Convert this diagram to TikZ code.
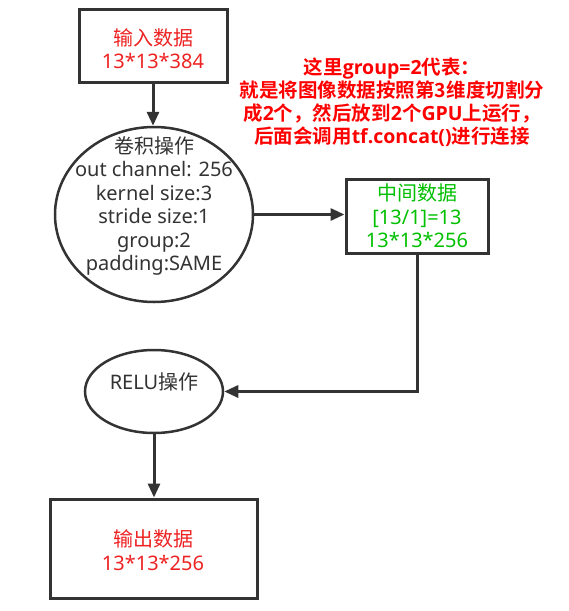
\documentclass[tikz,border=0pt]{standalone}
\usepackage{fontspec}
\setmainfont{Noto Sans}
\newfontfamily\cjk{Noto Sans CJK SC}[BoldFont={Noto Sans CJK SC Bold}]
\newfontfamily\annlat{Open Sans}[BoldFont={Open Sans Bold}]
\usetikzlibrary{arrows.meta,shapes.geometric}
\definecolor{ln}{RGB}{51,51,51}
\definecolor{rd}{RGB}{238,34,34}
\definecolor{ann}{RGB}{255,0,0}
\definecolor{gr}{RGB}{0,192,0}
\tikzset{
  boxshape/.style={draw=ln,line width=3pt,rectangle,inner sep=0pt},
  ellshape/.style={draw=ln,line width=2.5pt,ellipse,inner sep=0pt},
  txt/.style={align=center,inner sep=0pt,font=\fontsize{20}{23.5}\selectfont},
  arr/.style={draw=ln,line width=3pt,-{Triangle[length=14pt,width=12pt]}},
}
\begin{document}
\begin{tikzpicture}[x=1pt,y=-1pt]
\fill[white] (0,0) rectangle (569,611);
\useasboundingbox (0,0) rectangle (569,611);
% shapes
\node[boxshape,minimum width=148pt,minimum height=73pt] (inp) at (153,45.5) {};
\node[ellshape,minimum width=198pt,minimum height=175pt] (conv) at (154,214.5) {};
\node[boxshape,minimum width=142pt,minimum height=74pt] (mid) at (417,216) {};
\node[ellshape,minimum width=138pt,minimum height=83pt] (relu) at (154,391.5) {};
\node[boxshape,minimum width=207pt,minimum height=99pt] (out) at (153.5,548.5) {};
% texts
\node[txt,text=rd] (inpT) at (153,48.5) {{\cjk 输入数据}\\13*13*384};
\node[txt,text=ln] (convT) at (154,206) {{\cjk 卷积操作}\\out channel: 256\\kernel size:3\\stride size:1\\group:2\\padding:SAME};
\node[txt,text=gr] (midT) at (417,216) {{\cjk 中间数据}\\{[}13/1{]}=13\\13*13*256};
\node[txt,text=ln] (reluT) at (154,382) {RELU{\cjk 操作}};
\node[txt,text=rd] (outT) at (153,550) {{\cjk 输出数据}\\13*13*256};
\node[align=center,inner sep=0pt,text=ann,font=\annlat\bfseries\fontsize{19.5}{23}\selectfont] (note) at (392,102.5)
  {{\cjk 这里}group=2{\cjk 代表：}\\
   {\cjk 就是将图像数据按照第3维度切割分}\\
   {\cjk 成}2{\cjk 个，然后放到}2{\cjk 个}GPU{\cjk 上运行，}\\
   {\cjk 后面会调用}tf.concat(){\cjk 进行连接}};
% connectors
\draw[arr] (inp.south) -- (inp.south |- conv.north);
\draw[arr] (conv.east) -- (conv.east -| mid.west);
\draw[arr] (mid.south) |- (relu.east);
\draw[arr] (relu.south) -- (relu.south |- out.north);
\end{tikzpicture}
\end{document}
